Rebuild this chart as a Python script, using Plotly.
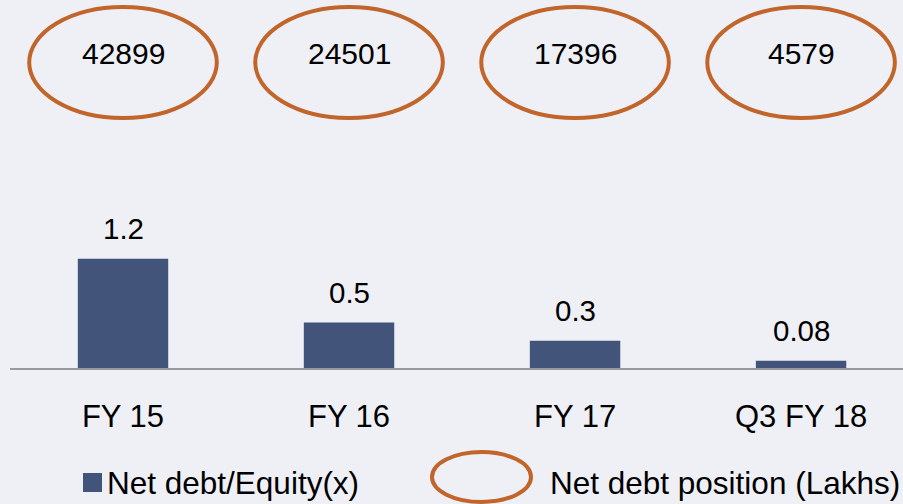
import plotly.graph_objects as go

categories = ["FY 15", "FY 16", "FY 17", "Q3 FY 18"]
net_debt_equity = [1.2, 0.5, 0.3, 0.08]
net_debt_equity_labels = ["1.2", "0.5", "0.3", "0.08"]
net_debt_position = [42899, 24501, 17396, 4579]

BAR_COLOR = "#425479"
RING_COLOR = "#C1652B"
BG = "#EFF0F6"
FONT = "Arial, Liberation Sans, sans-serif"

W, H = 903, 504
ML, MR, MT, MB = 10, 0, 0, 136
PH = H - MT - MB  # plot height in px


def py2paper(py):
    return (H - MB - py) / PH


def px2paper(px):
    return (px - ML) / (W - ML - MR)


xi = list(range(len(categories)))

fig = go.Figure()
fig.add_trace(go.Bar(
    x=xi, y=net_debt_equity, width=0.40,
    marker=dict(color=BAR_COLOR, line=dict(width=0)),
    name="Net debt/Equity(x)", showlegend=False, hoverinfo="skip",
))

shapes = []
annotations = []

# value labels on bars
for i, (v, lab) in enumerate(zip(net_debt_equity, net_debt_equity_labels)):
    annotations.append(dict(x=i, y=v, xref="x", yref="y", text=lab, showarrow=False,
                            yanchor="middle", yshift=30,
                            font=dict(size=29.5, color="#000000", family=FONT)))

# net debt position ellipses
for i, val in enumerate(net_debt_position):
    shapes.append(dict(type="circle", xref="x", yref="paper",
                       x0=i - 0.415, x1=i + 0.415,
                       y0=py2paper(118), y1=py2paper(7),
                       line=dict(color=RING_COLOR, width=4)))
    annotations.append(dict(x=i, y=py2paper(54), xref="x", yref="paper",
                            text=str(val), showarrow=False, yanchor="middle",
                            font=dict(size=30, color="#000000", family=FONT)))

# legend (manual)
shapes.append(dict(type="rect", xref="paper", yref="paper",
                   x0=px2paper(83), x1=px2paper(102),
                   y0=py2paper(492), y1=py2paper(473),
                   fillcolor=BAR_COLOR, line=dict(width=0)))
annotations.append(dict(x=px2paper(105), y=py2paper(482.5), xref="paper", yref="paper",
                        text="Net debt/Equity(x)", showarrow=False,
                        xanchor="left", yanchor="middle",
                        font=dict(size=31.5, color="#000000", family=FONT)))
shapes.append(dict(type="circle", xref="paper", yref="paper",
                   x0=px2paper(432), x1=px2paper(531),
                   y0=py2paper(502), y1=py2paper(452),
                   line=dict(color=RING_COLOR, width=4)))
annotations.append(dict(x=px2paper(548), y=py2paper(482.5), xref="paper", yref="paper",
                        text="Net debt position (Lakhs)", showarrow=False,
                        xanchor="left", yanchor="middle",
                        font=dict(size=31.5, color="#000000", family=FONT)))

fig.update_layout(
    width=W, height=H,
    margin=dict(l=ML, r=MR, t=MT, b=MB, pad=0),
    paper_bgcolor=BG, plot_bgcolor=BG,
    showlegend=False,
    shapes=shapes, annotations=annotations,
    xaxis=dict(
        tickmode="array", tickvals=xi, ticktext=categories,
        range=[-0.5, 3.451], showgrid=False, zeroline=False,
        showline=True, linecolor="#9A9A9A", linewidth=2,
        ticks="", tickfont=dict(size=31, color="#000000", family=FONT),
        ticklabelstandoff=20, fixedrange=True,
    ),
    yaxis=dict(range=[0, PH / 91.0], visible=False, showgrid=False,
               zeroline=False, fixedrange=True),
)

fig.write_html(
    "out.html",
    config={"displayModeBar": False},
    post_script=(
        "document.body.style.margin='0';"
        "document.body.style.padding='0';"
        "document.body.style.overflow='hidden';"
        "document.body.style.background='" + BG + "';"
    ),
)
